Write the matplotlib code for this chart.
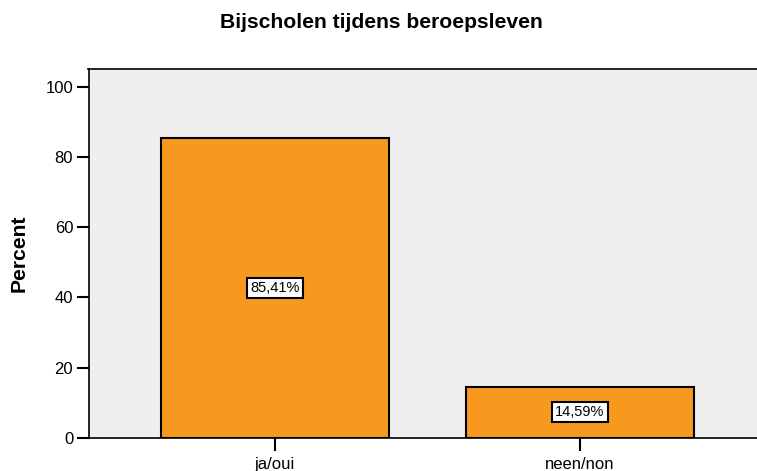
import matplotlib
matplotlib.use("Agg")
import matplotlib.pyplot as plt

categories = ["ja/oui", "neen/non"]
values = [85.41, 14.59]
labels = ["85,41%", "14,59%"]
yticks = [0, 20, 40, 60, 80, 100]

plt.rcParams['font.family'] = ['Liberation Sans', 'DejaVu Sans']

W, H = 757, 471
fig = plt.figure(figsize=(W / 100, H / 100), dpi=100)
left, right, bottom, top = 88.5, 757, 437.7, 68.5
ax = fig.add_axes([left / W, (H - bottom) / H, (right - left) / W, (bottom - top) / H])
ax.set_facecolor("#EFEFEF")

x = list(range(len(categories)))
ax.bar(x, values, width=0.75, color="#F7991F", edgecolor="black", linewidth=1.5, zorder=2)
for xi, v, lab in zip(x, values, labels):
    ax.text(xi, v / 2, lab, ha="center", va="center", fontsize=10.5, zorder=3,
            bbox=dict(boxstyle="square,pad=0.2", facecolor="white", edgecolor="black", linewidth=1.5))

ax.set_xlim(-0.611, 1.58)
ax.set_ylim(0, 105.3)
ax.set_xticks(x)
ax.set_xticklabels(categories, fontsize=12)
ax.set_yticks(yticks)
ax.set_yticklabels([str(t) for t in yticks], fontsize=12)
ax.tick_params(axis="both", direction="out", length=9, width=1.5, color="black", pad=2)
ax.tick_params(axis="x", pad=5)
for s in ["left", "top", "bottom"]:
    ax.spines[s].set_linewidth(1.2)
ax.spines["right"].set_visible(False)

ax.set_ylabel("Percent", fontsize=15.2, fontweight="bold", labelpad=12)
fig.text(381.7 / W, 1 - 23 / H, "Bijscholen tijdens beroepsleven", ha="center", va="center",
         fontsize=15.2, fontweight="bold")

fig.savefig("out.png", dpi=100)
